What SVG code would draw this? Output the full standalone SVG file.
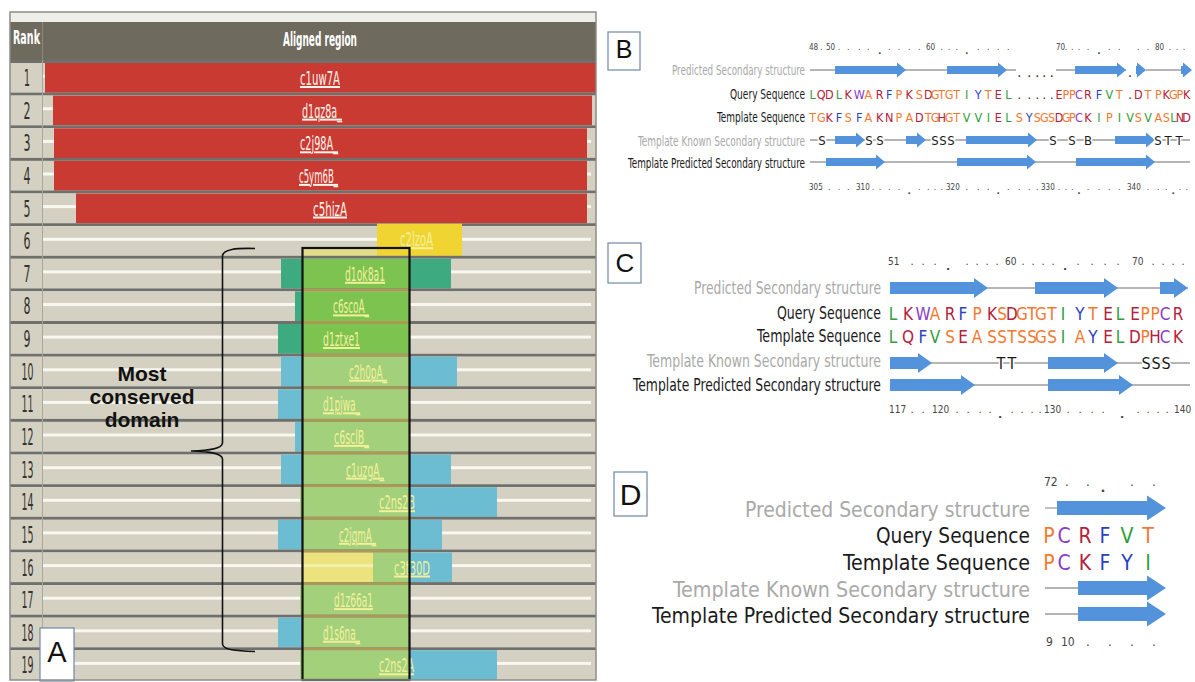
<svg xmlns="http://www.w3.org/2000/svg" width="1195" height="682" viewBox="0 0 1195 682">
<style>
.sep{fill:#6f6f6b}
.bg{fill:#d4d1c3}
.wl{fill:#f8f7f0}
.red{fill:#c93a33}
.teal{fill:#3eaa80}
.g1{fill:#7dc350}
.g2{fill:#a3d17b}
.blu{fill:#6dbdd2}
.yel{fill:#f0d532}
.yel2{fill:#ece27e}
.osep{fill:#a99a55}
.hd{font-family:"DejaVu Sans Condensed","DejaVu Sans",sans-serif;font-weight:bold;font-size:19px;fill:#ffffff}
.rk{font-family:"DejaVu Sans Condensed","DejaVu Sans",sans-serif;font-size:23px;fill:#33322e;text-anchor:middle}
.lb{font-family:"DejaVu Sans Condensed","DejaVu Sans",sans-serif;font-size:20px;text-decoration:underline}
.lw{fill:#fbf3ea}
.ly{fill:#f3f09c}
.mc{font-family:"Liberation Sans",Arial,sans-serif;font-weight:bold;font-size:21px;fill:#111111;text-anchor:middle}
.pl{font-family:"Liberation Sans",Arial,sans-serif;fill:#111111;text-anchor:middle}
.box{fill:#ffffff;stroke:#7087a6;stroke-width:1.2}
.la{font-family:"DejaVu Sans Condensed","DejaVu Sans",sans-serif;text-anchor:end}
.gy{fill:#a9a9a9}
.bk{fill:#1b1b1b}
.sq{font-family:"DejaVu Sans Condensed","DejaVu Sans",sans-serif;text-anchor:middle}
.o{fill:#f2792f}.r{fill:#b4213b}.g{fill:#2f9e3a}.b{fill:#2b3fc4}.p{fill:#8a3bc9}.k{fill:#222222}
.ss{fill:#5293dc}
.ln{stroke:#9d9d9d;stroke-width:1.3;fill:none}
.halo{paint-order:stroke;stroke:#ffffff;stroke-width:3px;fill:#1b1b1b}
.rul{font-family:"DejaVu Sans Condensed","DejaVu Sans",sans-serif;fill:#444444}
.dt{font-family:"DejaVu Sans",sans-serif;fill:#444444;text-anchor:middle}
</style>

<g id="panel-A">
  <rect x="10" y="12" width="586" height="10" fill="#efefe9"/>
  <rect x="10" y="22" width="586" height="38" fill="#6e6a5e"/>
  <line x1="42.5" y1="22" x2="42.5" y2="60" stroke="#8c887c" stroke-width="1"/>
  <text class="hd" x="13" y="44" textLength="27" lengthAdjust="spacingAndGlyphs">Rank</text>
  <text class="hd" x="283" y="46" textLength="74" lengthAdjust="spacingAndGlyphs">Aligned region</text>

  <g id="row-1" transform="translate(0,60)">
    <rect class="sep" x="10" y="0" width="586" height="3"/><rect class="bg" x="10" y="3" width="586" height="29.7"/><rect class="wl" x="43" y="14.6" width="548" height="3"/>
    <rect class="red" x="45" y="3" width="551" height="29.7"/>
    <text class="rk" x="27" y="26" textLength="6" lengthAdjust="spacingAndGlyphs">1</text>
    <text class="lb lw" x="300" y="25" textLength="40" lengthAdjust="spacingAndGlyphs">c1uw7A</text>
  </g>
  <g id="row-2" transform="translate(0,92.6)">
    <rect class="sep" x="10" y="0" width="586" height="3"/><rect class="bg" x="10" y="3" width="586" height="29.7"/><rect class="wl" x="43" y="14.6" width="548" height="3"/>
    <rect class="red" x="53" y="3" width="539" height="29.7"/>
    <text class="rk" x="27" y="26" textLength="7" lengthAdjust="spacingAndGlyphs">2</text>
    <text class="lb lw" x="302" y="25" textLength="40" lengthAdjust="spacingAndGlyphs">d1qz8a_</text>
  </g>
  <g id="row-3" transform="translate(0,125.3)">
    <rect class="sep" x="10" y="0" width="586" height="3"/><rect class="bg" x="10" y="3" width="586" height="29.7"/><rect class="wl" x="43" y="14.6" width="548" height="3"/>
    <rect class="red" x="54" y="3" width="533" height="29.7"/>
    <text class="rk" x="27" y="26" textLength="7" lengthAdjust="spacingAndGlyphs">3</text>
    <text class="lb lw" x="300" y="25" textLength="38" lengthAdjust="spacingAndGlyphs">c2j98A_</text>
  </g>
  <g id="row-4" transform="translate(0,157.9)">
    <rect class="sep" x="10" y="0" width="586" height="3"/><rect class="bg" x="10" y="3" width="586" height="29.7"/><rect class="wl" x="43" y="14.6" width="548" height="3"/>
    <rect class="red" x="54" y="3" width="533" height="29.7"/>
    <text class="rk" x="27" y="26" textLength="7" lengthAdjust="spacingAndGlyphs">4</text>
    <text class="lb lw" x="299" y="25" textLength="39" lengthAdjust="spacingAndGlyphs">c5ym6B_</text>
  </g>
  <g id="row-5" transform="translate(0,190.5)">
    <rect class="sep" x="10" y="0" width="586" height="3"/><rect class="bg" x="10" y="3" width="586" height="29.7"/><rect class="wl" x="43" y="14.6" width="548" height="3"/>
    <rect class="red" x="76" y="3" width="511" height="29.7"/>
    <text class="rk" x="27" y="26" textLength="7" lengthAdjust="spacingAndGlyphs">5</text>
    <text class="lb lw" x="313" y="25" textLength="34" lengthAdjust="spacingAndGlyphs">c5hizA</text>
  </g>
  <g id="row-6" transform="translate(0,223.2)">
    <rect class="sep" x="10" y="0" width="586" height="3"/><rect class="bg" x="10" y="3" width="586" height="29.7"/><rect class="wl" x="43" y="14.6" width="548" height="3"/>
    <rect class="yel" x="377" y="0.5" width="85" height="32.2"/>
    <rect x="303" y="24.8" width="74" height="7.9" fill="#e3dc8a"/>
    <text class="rk" x="27" y="26" textLength="7" lengthAdjust="spacingAndGlyphs">6</text>
    <text class="lb ly" x="400" y="23" textLength="33" lengthAdjust="spacingAndGlyphs">c2lzoA</text>
  </g>
  <g id="row-7" transform="translate(0,255.8)">
    <rect class="sep" x="10" y="0" width="586" height="3"/><rect class="bg" x="10" y="3" width="586" height="29.7"/><rect class="wl" x="43" y="14.6" width="548" height="3"/>
    <rect class="teal" x="281" y="3" width="170" height="29.7"/>
    <rect class="g1" x="303" y="3" width="106" height="29.7"/>
    <text class="rk" x="27" y="26" textLength="7" lengthAdjust="spacingAndGlyphs">7</text>
    <text class="lb ly" x="345" y="25" textLength="40" lengthAdjust="spacingAndGlyphs">d1ok8a1</text>
  </g>
  <g id="row-8" transform="translate(0,288.4)">
    <rect class="sep" x="10" y="0" width="586" height="3"/><rect class="bg" x="10" y="3" width="586" height="29.7"/><rect class="wl" x="43" y="14.6" width="548" height="3"/>
    <rect class="teal" x="295" y="3" width="8" height="29.7"/>
    <rect class="g1" x="303" y="3" width="106" height="29.7"/>
    <rect class="osep" x="303" y="0" width="106" height="3"/>
    <text class="rk" x="27" y="26" textLength="7" lengthAdjust="spacingAndGlyphs">8</text>
    <text class="lb ly" x="333" y="25" textLength="36" lengthAdjust="spacingAndGlyphs">c6scoA_</text>
  </g>
  <g id="row-9" transform="translate(0,321.0)">
    <rect class="sep" x="10" y="0" width="586" height="3"/><rect class="bg" x="10" y="3" width="586" height="29.7"/><rect class="wl" x="43" y="14.6" width="548" height="3"/>
    <rect class="teal" x="278" y="3" width="25" height="29.7"/>
    <rect class="g1" x="303" y="3" width="106" height="29.7"/>
    <rect class="osep" x="303" y="0" width="106" height="3"/>
    <text class="rk" x="27" y="26" textLength="7" lengthAdjust="spacingAndGlyphs">9</text>
    <text class="lb ly" x="323" y="25" textLength="37" lengthAdjust="spacingAndGlyphs">d1ztxe1</text>
  </g>
  <g id="row-10" transform="translate(0,353.7)">
    <rect class="sep" x="10" y="0" width="586" height="3"/><rect class="bg" x="10" y="3" width="586" height="29.7"/><rect class="wl" x="43" y="14.6" width="548" height="3"/>
    <rect class="blu" x="281" y="3" width="176" height="29.7"/>
    <rect class="g2" x="303" y="3" width="106" height="29.7"/>
    <rect class="osep" x="303" y="0" width="106" height="3"/>
    <text class="rk" x="27.5" y="26" textLength="12" lengthAdjust="spacingAndGlyphs">10</text>
    <text class="lb ly" x="349" y="25" textLength="38" lengthAdjust="spacingAndGlyphs">c2h0pA_</text>
  </g>
  <g id="row-11" transform="translate(0,386.3)">
    <rect class="sep" x="10" y="0" width="586" height="3"/><rect class="bg" x="10" y="3" width="586" height="29.7"/><rect class="wl" x="43" y="14.6" width="548" height="3"/>
    <rect class="blu" x="278" y="3" width="25" height="29.7"/>
    <rect class="g2" x="303" y="3" width="106" height="29.7"/>
    <rect class="osep" x="303" y="0" width="106" height="3"/>
    <text class="rk" x="27.5" y="26" textLength="12" lengthAdjust="spacingAndGlyphs">11</text>
    <text class="lb ly" x="323" y="25" textLength="37" lengthAdjust="spacingAndGlyphs">d1pjwa_</text>
  </g>
  <g id="row-12" transform="translate(0,418.9)">
    <rect class="sep" x="10" y="0" width="586" height="3"/><rect class="bg" x="10" y="3" width="586" height="29.7"/><rect class="wl" x="43" y="14.6" width="548" height="3"/>
    <rect class="blu" x="295" y="3" width="8" height="29.7"/>
    <rect class="g2" x="303" y="3" width="106" height="29.7"/>
    <rect class="osep" x="303" y="0" width="106" height="3"/>
    <text class="rk" x="27.5" y="26" textLength="12" lengthAdjust="spacingAndGlyphs">12</text>
    <text class="lb ly" x="334" y="25" textLength="35" lengthAdjust="spacingAndGlyphs">c6sclB_</text>
  </g>
  <g id="row-13" transform="translate(0,451.6)">
    <rect class="sep" x="10" y="0" width="586" height="3"/><rect class="bg" x="10" y="3" width="586" height="29.7"/><rect class="wl" x="43" y="14.6" width="548" height="3"/>
    <rect class="blu" x="281" y="3" width="170" height="29.7"/>
    <rect class="g2" x="303" y="3" width="106" height="29.7"/>
    <rect class="osep" x="303" y="0" width="106" height="3"/>
    <text class="rk" x="27.5" y="26" textLength="12" lengthAdjust="spacingAndGlyphs">13</text>
    <text class="lb ly" x="346" y="25" textLength="38" lengthAdjust="spacingAndGlyphs">c1uzgA_</text>
  </g>
  <g id="row-14" transform="translate(0,484.2)">
    <rect class="sep" x="10" y="0" width="586" height="3"/><rect class="bg" x="10" y="3" width="586" height="29.7"/><rect class="wl" x="43" y="14.6" width="548" height="3"/>
    <rect class="g2" x="300" y="3" width="109" height="29.7"/>
    <rect class="blu" x="409" y="3" width="88" height="29.7"/>
    <rect class="osep" x="303" y="0" width="106" height="3"/>
    <text class="rk" x="27.5" y="26" textLength="12" lengthAdjust="spacingAndGlyphs">14</text>
    <text class="lb ly" x="379" y="25" textLength="36" lengthAdjust="spacingAndGlyphs">c2ns2B</text>
  </g>
  <g id="row-15" transform="translate(0,516.8)">
    <rect class="sep" x="10" y="0" width="586" height="3"/><rect class="bg" x="10" y="3" width="586" height="29.7"/><rect class="wl" x="43" y="14.6" width="548" height="3"/>
    <rect class="blu" x="278" y="3" width="164" height="29.7"/>
    <rect class="g2" x="303" y="3" width="106" height="29.7"/>
    <rect class="osep" x="303" y="0" width="106" height="3"/>
    <text class="rk" x="27.5" y="26" textLength="12" lengthAdjust="spacingAndGlyphs">15</text>
    <text class="lb ly" x="339" y="25" textLength="37" lengthAdjust="spacingAndGlyphs">c2jqmA_</text>
  </g>
  <g id="row-16" transform="translate(0,549.5)">
    <rect class="sep" x="10" y="0" width="586" height="3"/><rect class="bg" x="10" y="3" width="586" height="29.7"/><rect class="wl" x="43" y="14.6" width="548" height="3"/>
    <rect class="yel2" x="303" y="3" width="70" height="29.7"/>
    <rect x="303" y="14.6" width="70" height="3" fill="#f6f0a8"/>
    <rect class="g2" x="373" y="3" width="36" height="29.7"/>
    <rect class="blu" x="409" y="3" width="43" height="29.7"/>
    <rect class="osep" x="303" y="0" width="106" height="3"/>
    <text class="rk" x="27.5" y="26" textLength="12" lengthAdjust="spacingAndGlyphs">16</text>
    <text class="lb ly" x="394" y="25" textLength="36" lengthAdjust="spacingAndGlyphs">c3t30D</text>
  </g>
  <g id="row-17" transform="translate(0,582.1)">
    <rect class="sep" x="10" y="0" width="586" height="3"/><rect class="bg" x="10" y="3" width="586" height="29.7"/><rect class="wl" x="43" y="14.6" width="548" height="3"/>
    <rect class="g2" x="300" y="3" width="109" height="29.7"/>
    <rect class="osep" x="303" y="0" width="106" height="3"/>
    <text class="rk" x="27.5" y="26" textLength="12" lengthAdjust="spacingAndGlyphs">17</text>
    <text class="lb ly" x="334" y="25" textLength="39" lengthAdjust="spacingAndGlyphs">d1z66a1</text>
  </g>
  <g id="row-18" transform="translate(0,614.7)">
    <rect class="sep" x="10" y="0" width="586" height="3"/><rect class="bg" x="10" y="3" width="586" height="29.7"/><rect class="wl" x="43" y="14.6" width="548" height="3"/>
    <rect class="blu" x="278" y="3" width="25" height="29.7"/>
    <rect class="g2" x="303" y="3" width="106" height="29.7"/>
    <rect class="osep" x="303" y="0" width="106" height="3"/>
    <text class="rk" x="27.5" y="26" textLength="12" lengthAdjust="spacingAndGlyphs">18</text>
    <text class="lb ly" x="323" y="25" textLength="37" lengthAdjust="spacingAndGlyphs">d1s6na_</text>
  </g>
  <g id="row-19" transform="translate(0,647.3)">
    <rect class="sep" x="10" y="0" width="586" height="3"/><rect class="bg" x="10" y="3" width="586" height="29.7"/><rect class="wl" x="43" y="14.6" width="548" height="3"/>
    <rect class="g2" x="300" y="3" width="109" height="29.7"/>
    <rect class="blu" x="409" y="3" width="88" height="29.7"/>
    <rect class="osep" x="303" y="0" width="106" height="3"/>
    <text class="rk" x="27.5" y="26" textLength="12" lengthAdjust="spacingAndGlyphs">19</text>
    <text class="lb ly" x="379" y="25" textLength="35" lengthAdjust="spacingAndGlyphs">c2ns2A</text>
  </g>

  <line x1="42.5" y1="60" x2="42.5" y2="680" stroke="#a9a69a" stroke-width="1"/>
  <rect id="conserved-box" x="302.5" y="248" width="107" height="432" fill="none" stroke="#111111" stroke-width="2.2"/>
  <path id="brace" d="M255,248.5 C236,248 223,249 222.5,256 L222.5,443 C222,449 210,450.5 191,451 C210,451.5 222,453 222.5,459 L222.5,644 C223,650 236,651 255,651.5" fill="none" stroke="#111111" stroke-width="1.6"/>
  <text class="mc" x="142"><tspan x="142" y="381">Most</tspan><tspan x="142" y="404">conserved</tspan><tspan x="142" y="427">domain</tspan></text>
  <g id="label-A">
    <rect class="box" x="40" y="628" width="34" height="53"/>
    <text class="pl" x="57" y="662" font-size="29">A</text>
  </g>
  <rect x="10" y="12" width="586" height="668" fill="none" stroke="#8c8c88" stroke-width="1.5"/>
</g>

<g id="panel-B">
  <g id="label-B">
    <rect class="box" x="608" y="32" width="32" height="38"/>
    <text class="pl" x="624" y="58" font-size="25">B</text>
  </g>
  <text class="la gy" x="805" y="75" font-size="14" textLength="133" lengthAdjust="spacingAndGlyphs">Predicted Secondary structure</text>
  <text class="la bk" x="805" y="99" font-size="14" textLength="75" lengthAdjust="spacingAndGlyphs">Query Sequence</text>
  <text class="la bk" x="805" y="122" font-size="14" textLength="88" lengthAdjust="spacingAndGlyphs">Template Sequence</text>
  <text class="la gy" x="805" y="146" font-size="14" textLength="167" lengthAdjust="spacingAndGlyphs">Template Known Secondary structure</text>
  <text class="la bk" x="805" y="168" font-size="14" textLength="177" lengthAdjust="spacingAndGlyphs">Template Predicted Secondary structure</text>

  <text class="rul" font-size="8"><tspan x="809" y="50">48</tspan><tspan x="826" y="50">50</tspan><tspan x="926" y="50">60</tspan><tspan x="1056" y="50">70</tspan><tspan x="1155" y="50">80</tspan></text>
  <text class="dt" font-size="8" y="50" x="821.3 839 848.3 859.3 868.3 889.3 899 909.3 919.3 941.7 949 956.7 978.3 988.3 998.3 1008.3 1066 1072.3 1079 1088 1109.3 1119.3 1138.3 1148 1170 1177 1184">...........................</text>
  <text class="dt" font-size="9" font-weight="bold" y="54" x="879.7 966.7 1099">...</text>

  <path class="ln" d="M810,70 H1016 M1056,70 H1126 M1146,70 H1184"/>
  <path class="ss" d="M835 66H897V62.5L906 70L897 77.5V74H835Z M947 66H998V62.5L1007 70L998 77.5V74H947Z M1075 66H1117V62.5L1126 70L1117 77.5V74H1075Z M1136 66H1137V62.5L1146 70L1137 77.5V74H1136Z M1181 66H1183V62.5L1192 70L1183 77.5V74H1181Z"/>
  <text class="sq k" font-size="14" y="77" x="1019.3 1029.3 1037.3 1044.3 1051.7 1130">......</text>

  <text class="sq" font-size="12.5" y="99" x="812.7 821.3 829.3 839 848.3 859.3 868.3 879.7 889.3 899 909.3 919.3 928.3 935 941.7 949 956.7 966.7 978.3 988.3 998.3 1008.3 1019.3 1029.3 1037.3 1044.3 1051.7 1059 1066 1072.3 1079 1088 1099 1109.3 1119.3 1130 1138.3 1148 1158.3 1166.3 1173.3 1180 1186.7"><tspan class="g">L</tspan><tspan class="r">QD</tspan><tspan class="g">L</tspan><tspan class="r">K</tspan><tspan class="p">W</tspan><tspan class="o">A</tspan><tspan class="r">R</tspan><tspan class="b">F</tspan><tspan class="o">P</tspan><tspan class="r">K</tspan><tspan class="o">S</tspan><tspan class="r">D</tspan><tspan class="o">GTGT</tspan><tspan class="g">I</tspan><tspan class="b">Y</tspan><tspan class="o">T</tspan><tspan class="r">E</tspan><tspan class="g">L</tspan><tspan class="k">.....</tspan><tspan class="r">E</tspan><tspan class="o">PP</tspan><tspan class="p">C</tspan><tspan class="r">R</tspan><tspan class="b">F</tspan><tspan class="g">V</tspan><tspan class="o">T</tspan><tspan class="k">.</tspan><tspan class="r">D</tspan><tspan class="o">TP</tspan><tspan class="r">K</tspan><tspan class="o">GP</tspan><tspan class="r">K</tspan></text>
  <text class="sq" font-size="12.5" y="122" x="812.7 821.3 829.3 839 848.3 859.3 868.3 879.7 889.3 899 909.3 919.3 928.3 935 941.7 949 956.7 966.7 978.3 988.3 998.3 1008.3 1019.3 1029.3 1037.3 1044.3 1051.7 1059 1066 1072.3 1079 1088 1099 1109.3 1119.3 1130 1138.3 1148 1158.3 1166.3 1173.3 1180 1186.7"><tspan class="o">TG</tspan><tspan class="r">K</tspan><tspan class="b">F</tspan><tspan class="o">S</tspan><tspan class="b">F</tspan><tspan class="o">A</tspan><tspan class="r">KN</tspan><tspan class="o">PA</tspan><tspan class="r">D</tspan><tspan class="o">TG</tspan><tspan class="r">H</tspan><tspan class="o">GT</tspan><tspan class="g">VVI</tspan><tspan class="r">E</tspan><tspan class="g">L</tspan><tspan class="o">S</tspan><tspan class="b">Y</tspan><tspan class="o">SGS</tspan><tspan class="r">D</tspan><tspan class="o">GP</tspan><tspan class="p">C</tspan><tspan class="r">K</tspan><tspan class="g">I</tspan><tspan class="o">P</tspan><tspan class="g">IV</tspan><tspan class="o">S</tspan><tspan class="g">V</tspan><tspan class="o">AS</tspan><tspan class="g">L</tspan><tspan class="r">ND</tspan></text>

  <path class="ln" d="M810,140 H1190"/>
  <path class="ss" d="M835 136H856V132.5L865 140L856 147.5V144H835Z M906 136H917V132.5L926 140L917 147.5V144H906Z M966 136H1028V132.5L1037 140L1028 147.5V144H966Z M1115 136H1146V132.5L1155 140L1146 147.5V144H1115Z"/>
  <text class="sq halo" font-size="13" y="145" x="822 869 880 935 943 951 1053 1072 1088 1158 1168 1179">SSSSSSSSBSTT</text>

  <path class="ln" d="M810,162 H1190"/>
  <path class="ss" d="M826 158H876V154.5L885 162L876 169.5V166H826Z M957 158H1027V154.5L1036 162L1027 169.5V166H957Z M1076 158H1146V154.5L1155 162L1146 169.5V166H1076Z"/>

  <text class="rul" font-size="8"><tspan x="809" y="190">305</tspan><tspan x="856" y="190">310</tspan><tspan x="946" y="190">320</tspan><tspan x="1041" y="190">330</tspan><tspan x="1127" y="190">340</tspan></text>
  <text class="dt" font-size="8" y="190" x="829.3 839 848.3 873 880 889.3 899 919.3 928.3 935 941.7 966.7 978.3 988.3 1008.3 1019.3 1029.3 1037.3 1059 1066 1072.3 1088 1099 1109.3 1119.3 1148 1158.3 1166.3 1180 1186.7">..............................</text>
  <text class="dt" font-size="9" font-weight="bold" y="194" x="909.3 998.3 1079 1173.3">....</text>
</g>

<g id="panel-C">
  <g id="label-C">
    <rect class="box" x="608" y="243" width="33" height="40"/>
    <text class="pl" x="625" y="272" font-size="26">C</text>
  </g>
  <text class="la gy" x="881" y="294" font-size="18" textLength="187" lengthAdjust="spacingAndGlyphs">Predicted Secondary structure</text>
  <text class="la bk" x="881" y="319" font-size="18" textLength="104" lengthAdjust="spacingAndGlyphs">Query Sequence</text>
  <text class="la bk" x="881" y="342" font-size="18" textLength="124" lengthAdjust="spacingAndGlyphs">Template Sequence</text>
  <text class="la gy" x="881" y="367" font-size="18" textLength="234" lengthAdjust="spacingAndGlyphs">Template Known Secondary structure</text>
  <text class="la bk" x="881" y="391" font-size="18" textLength="248" lengthAdjust="spacingAndGlyphs">Template Predicted Secondary structure</text>

  <text class="rul" font-size="10"><tspan x="888" y="265">51</tspan><tspan x="1005" y="265">60</tspan><tspan x="1132" y="265">70</tspan></text>
  <text class="dt" font-size="10" y="265" x="912 923 935 967 977 987 997 1023 1033 1043 1053 1078 1092 1105 1118 1153 1163 1173 1183">...................</text>
  <text class="dt" font-size="11" font-weight="bold" y="270" x="948 1065">..</text>

  <path class="ln" d="M890,288 H1188"/>
  <path class="ss" d="M890 282H974V278L988 288L974 298V294H890Z M1035 282H1104V278L1118 288L1104 298V294H1035Z M1160 282H1174V278L1188 288L1174 298V294H1160Z"/>

  <text class="sq" font-size="17" y="320" x="893 908 923 935 950 963 977 992 1002 1012 1022 1032 1041 1052 1063 1080 1093 1108 1120 1135 1145 1155 1165 1178"><tspan class="g">L</tspan><tspan class="r">K</tspan><tspan class="p">W</tspan><tspan class="o">A</tspan><tspan class="r">R</tspan><tspan class="b">F</tspan><tspan class="o">P</tspan><tspan class="r">K</tspan><tspan class="o">S</tspan><tspan class="r">D</tspan><tspan class="o">GTGT</tspan><tspan class="g">I</tspan><tspan class="b">Y</tspan><tspan class="o">T</tspan><tspan class="r">E</tspan><tspan class="g">L</tspan><tspan class="r">E</tspan><tspan class="o">PP</tspan><tspan class="p">C</tspan><tspan class="r">R</tspan></text>
  <text class="sq" font-size="17" y="343" x="893 908 923 935 950 963 977 992 1002 1012 1022 1032 1041 1052 1063 1080 1093 1108 1120 1135 1145 1155 1165 1178"><tspan class="g">L</tspan><tspan class="r">Q</tspan><tspan class="b">F</tspan><tspan class="g">V</tspan><tspan class="o">S</tspan><tspan class="r">E</tspan><tspan class="o">ASSTSSGS</tspan><tspan class="g">I</tspan><tspan class="o">A</tspan><tspan class="b">Y</tspan><tspan class="r">E</tspan><tspan class="g">L</tspan><tspan class="r">D</tspan><tspan class="o">P</tspan><tspan class="r">H</tspan><tspan class="p">C</tspan><tspan class="r">K</tspan></text>

  <path class="ln" d="M890,363 H1190"/>
  <path class="ss" d="M890 357H918V353L932 363L918 373V369H890Z M1048 357H1104V353L1118 363L1104 373V369H1048Z"/>
  <text class="sq halo" font-size="16" y="369" x="1001 1012 1146 1156 1166">TTSSS</text>

  <path class="ln" d="M890,385 H1190"/>
  <path class="ss" d="M890 379H961V375L975 385L961 395V391H890Z M1048 379H1119V375L1133 385L1119 395V391H1048Z"/>

  <text class="rul" font-size="10"><tspan x="889" y="413">117</tspan><tspan x="932" y="413">120</tspan><tspan x="1044" y="413">130</tspan><tspan x="1174" y="413">140</tspan></text>
  <text class="dt" font-size="10" y="413" x="912 923 957 968 980 990 1012 1022 1032 1040 1068 1080 1092 1103 1138 1148 1158 1167">..................</text>
  <text class="dt" font-size="11" font-weight="bold" y="418" x="1000 1122">..</text>
</g>

<g id="panel-D">
  <g id="label-D">
    <rect class="box" x="614" y="472" width="33" height="44"/>
    <text class="pl" x="630.5" y="505" font-size="30">D</text>
  </g>
  <text class="la gy" x="1030" y="517" font-size="22" textLength="285" lengthAdjust="spacingAndGlyphs">Predicted Secondary structure</text>
  <text class="la bk" x="1030" y="543" font-size="22" textLength="154" lengthAdjust="spacingAndGlyphs">Query Sequence</text>
  <text class="la bk" x="1030" y="570" font-size="22" textLength="187" lengthAdjust="spacingAndGlyphs">Template Sequence</text>
  <text class="la gy" x="1030" y="597" font-size="22" textLength="357" lengthAdjust="spacingAndGlyphs">Template Known Secondary structure</text>
  <text class="la bk" x="1030" y="623" font-size="22" textLength="378" lengthAdjust="spacingAndGlyphs">Template Predicted Secondary structure</text>

  <text class="rul" font-size="12" x="1044" y="486">72</text>
  <text class="dt" font-size="12" y="486" x="1067 1088 1132 1154">....</text>
  <text class="dt" font-size="13" font-weight="bold" y="492" x="1103">.</text>

  <path class="ln" d="M1045,508 H1058"/>
  <path class="ss" d="M1057 501H1147V495.5L1166 508L1147 520.5V515H1057Z"/>

  <text class="sq" font-size="21" y="543" x="1049 1064 1085 1105 1127 1148"><tspan class="o">P</tspan><tspan class="p">C</tspan><tspan class="r">R</tspan><tspan class="b">F</tspan><tspan class="g">V</tspan><tspan class="o">T</tspan></text>
  <text class="sq" font-size="21" y="570" x="1049 1064 1085 1105 1127 1148"><tspan class="o">P</tspan><tspan class="p">C</tspan><tspan class="r">K</tspan><tspan class="b">FY</tspan><tspan class="g">I</tspan></text>

  <path class="ln" d="M1045,588 H1079"/>
  <path class="ss" d="M1078 581H1147V575.5L1166 588L1147 600.5V595H1078Z"/>
  <path class="ln" d="M1045,614 H1079"/>
  <path class="ss" d="M1078 607H1147V601.5L1166 614L1147 626.5V621H1078Z"/>

  <text class="rul" font-size="12"><tspan x="1046" y="646">9</tspan><tspan x="1061" y="646">10</tspan></text>
  <text class="dt" font-size="12" y="646" x="1088 1110 1132 1154">....</text>
</g>
</svg>
